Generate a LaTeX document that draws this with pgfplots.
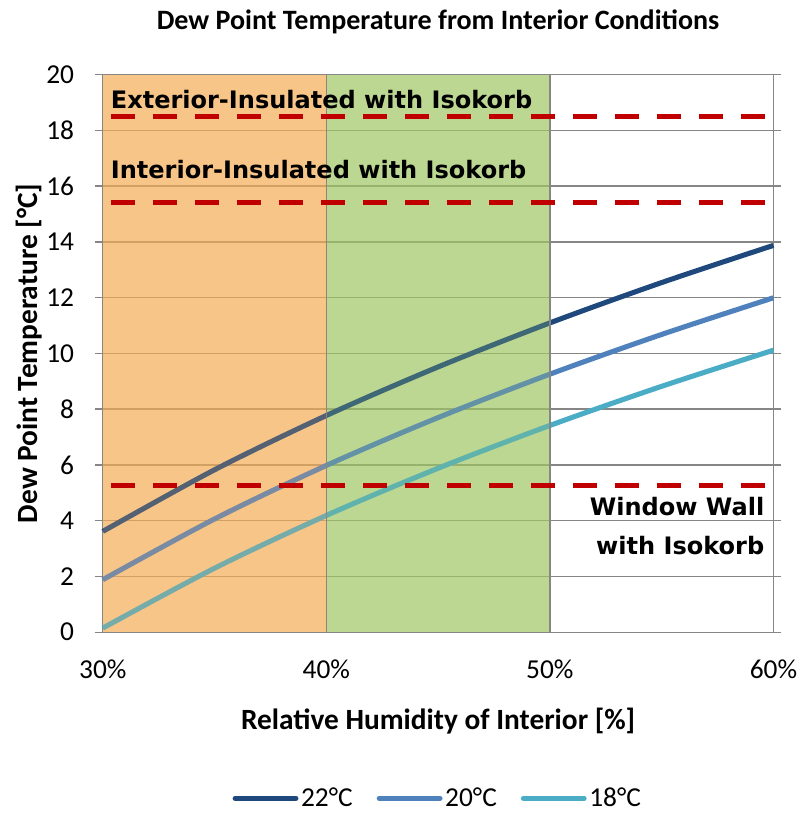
\documentclass[border=0pt]{standalone}
\usepackage{pgfplots}
\pgfplotsset{compat=1.18}
\usepackage{fontspec}
\setmainfont{Carlito}
\newfontfamily\verd{DejaVu Sans}
\definecolor{cA}{RGB}{31,73,125}
\definecolor{cB}{RGB}{79,129,189}
\definecolor{cC}{RGB}{75,172,198}
\definecolor{dred}{RGB}{192,0,0}
\definecolor{orf}{RGB}{245,172,85}
\definecolor{grf}{RGB}{160,198,100}
\definecolor{gridg}{RGB}{134,134,134}
\begin{document}
\begin{tikzpicture}
\begin{axis}[
  scale only axis,
  width=502.5pt, height=417.75pt,
  xmin=30, xmax=60, ymin=0, ymax=20,
  xtick={30,40,50,60},
  xticklabels={30\%,40\%,50\%,60\%},
  ytick={0,2,...,20},
  ymajorgrids,
  grid style={gridg, line width=1pt},
  axis line style={gridg, line width=1pt},
  tick align=outside,
  major tick length=6pt,
  tick style={gridg, line width=1pt},
  xtick style={draw=none},
  /pgf/number format/assume math mode=true,
  tick label style={font=\fontsize{20.5}{22}\selectfont},
  xticklabel style={yshift=-11pt},
  yticklabel style={xshift=-12pt},
  title={\bfseries Dew Point Temperature from Interior Conditions},
  title style={font=\fontsize{21}{24}\selectfont, yshift=21pt},
  xlabel={\bfseries Relative Humidity of Interior [\%]},
  ylabel={\bfseries Dew Point Temperature [°C]},
  label style={font=\fontsize{22}{24}\selectfont},
  xlabel style={yshift=-15pt},
  ylabel style={yshift=-4pt},
  legend style={at={(0.5,-0.298)}, anchor=center, draw=none, legend columns=3,
    font=\fontsize{20.5}{22}\selectfont, /tikz/every even column/.append style={column sep=16pt}},
  legend image code/.code={\draw[#1, line cap=round] (0,0) -- (1.6cm,0);},
  clip=false,
]
% shaded regions underneath
\addplot[draw=none, fill=orf, fill opacity=0.6, forget plot] coordinates {(30,0)(40,0)(40,20)(30,20)} -- cycle;
\addplot[draw=none, fill=grf, fill opacity=0.6, forget plot] coordinates {(40,0)(50,0)(50,20)(40,20)} -- cycle;
\addplot[cA, line width=3.8pt, smooth] coordinates {(30,3.615)(35,5.825)(40,7.772)(45,9.515)(50,11.094)(55,12.541)(60,13.875)};
\addlegendentry{22°C}
\addplot[cB, line width=3.8pt, smooth] coordinates {(30,1.882)(35,4.061)(40,5.980)(45,7.698)(50,9.255)(55,10.680)(60,11.995)};
\addlegendentry{20°C}
\addplot[cC, line width=3.8pt, smooth] coordinates {(30,0.147)(35,2.295)(40,4.187)(45,5.880)(50,7.415)(55,8.819)(60,10.115)};
\addlegendentry{18°C}
% shaded regions overlay (tint curves)
\addplot[draw=none, fill=orf, fill opacity=0.25, forget plot] coordinates {(30,0)(40,0)(40,20)(30,20)} -- cycle;
\addplot[draw=none, fill=grf, fill opacity=0.25, forget plot] coordinates {(40,0)(50,0)(50,20)(40,20)} -- cycle;
\addplot[gridg!80!brown, line width=1pt, forget plot] coordinates {(40,0)(40,20)};
\addplot[gridg, line width=1pt, forget plot] coordinates {(50,0)(50,20)};
% dashed red lines
\addplot[dred, line width=3.8pt, dash pattern=on 18pt off 13.5pt, forget plot] coordinates {(30.36,18.5)(60,18.5)};
\addplot[dred, line width=3.8pt, dash pattern=on 18pt off 13.5pt, forget plot] coordinates {(30.36,15.4)(60,15.4)};
\addplot[dred, line width=3.8pt, dash pattern=on 18pt off 13.5pt, forget plot] coordinates {(30.36,5.25)(60,5.25)};
\node[anchor=west, font=\verd\bfseries\fontsize{18}{20}\selectfont, inner sep=0pt] at (axis cs:30.35,19.12) {Exterior-Insulated with Isokorb};
\node[anchor=west, font=\verd\bfseries\fontsize{18}{20}\selectfont, inner sep=0pt] at (axis cs:30.35,16.6) {Interior-Insulated with Isokorb};
\node[anchor=east, font=\verd\bfseries\fontsize{18}{20}\selectfont, inner sep=0pt] at (axis cs:59.6,4.52) {Window Wall};
\node[anchor=east, font=\verd\bfseries\fontsize{18}{20}\selectfont, inner sep=0pt] at (axis cs:59.6,3.12) {with Isokorb};
\end{axis}
\path ([xshift=-9pt]current bounding box.west) ([yshift=4pt]current bounding box.north);
\end{tikzpicture}
\end{document}
